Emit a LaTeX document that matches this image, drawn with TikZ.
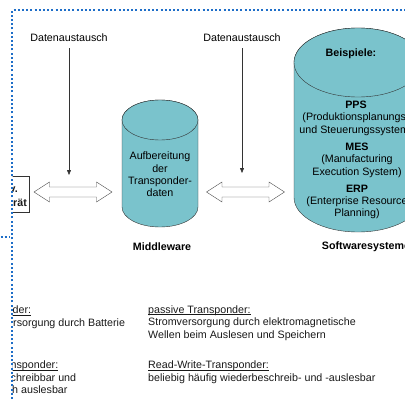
\documentclass[tikz,border=0pt]{standalone}
\usepackage{fontspec}
\setmainfont{Liberation Sans}
\usepackage{xcolor}
\usetikzlibrary{arrows.meta,positioning}

\definecolor{tealfill}{RGB}{122,195,204}
\definecolor{frameblue}{RGB}{30,110,200}
\newcommand{\figfont}{\fontsize{10.7}{12.4}\selectfont}
\newcommand{\ulin}[1]{$\underline{\smash{\hbox{#1}}}$}
% Zylinder: x-Mitte, oben, unten, x-Radius, y-Radius
\newcommand{\drum}[5]{%
  \filldraw[db] (#1-#4,#2+#5) -- (#1-#4,#3-#5)
    arc[start angle=180, end angle=360, x radius=#4pt, y radius=#5pt]
    -- (#1+#4,#2+#5)
    arc[start angle=0, end angle=180, x radius=#4pt, y radius=#5pt] -- cycle;
  \draw[db] (#1,#2+#5) ellipse[x radius=#4pt, y radius=#5pt];}
% Doppelpfeil: Name, x-Mitte, y-Mitte
\newcommand{\xchg}[3]{%
  \coordinate (#1) at (#2,#3);
  \draw[xchgstyle, shift={(#1)}] (-39,0) -- (-23.5,-10) -- (-23.5,-5) -- (23.5,-5)
    -- (23.5,-10) -- (39,0) -- (23.5,10) -- (23.5,5) -- (-23.5,5) -- (-23.5,10) -- cycle;}

\begin{document}
\begin{tikzpicture}[
    x=1pt, y=-1pt,
    font=\figfont,
    db/.style={draw=black!80, fill=tealfill, thin},
    xchgstyle/.style={draw=black!70, fill=white, thin, line join=miter},
    lbl/.style={align=center, inner sep=1pt},
    head/.style={font=\figfont\bfseries, align=center, inner sep=1pt},
    note/.style={align=left, inner sep=0pt, text=black!90},
    flow/.style={-{Triangle[length=5pt,width=4pt]}, draw=black!80, thin},
    frame/.style={draw=frameblue, line width=2pt, dash pattern=on 2pt off 2.2pt},
]
\useasboundingbox (0,0) rectangle (405,399);

% Datenbanken
\drum{160}{100}{227}{38}{20}
\drum{358}{28}{232}{64}{34.5}

\node[lbl] (mw) at (160,174.5) {Aufbereitung\\der\\Transponder-\\daten};
\node[head] (mwlabel) at (162,247) {Middleware};
\node[head] (swlabel) at (366,247) {Softwaresysteme};

% Inhalt Softwaresysteme
\node[head] (bsp) at (351,54) {Beispiele:};
\node[lbl] (pps) at (356,118) {\textbf{PPS}\\(Produktionsplanungs-\\und Steuerungssystem)};
\node[lbl] (mes) at (357,160) {\textbf{MES}\\(Manufacturing\\Execution System)};
\node[lbl] (erp) at (357,202) {\textbf{ERP}\\(Enterprise Resource\\Planning)};

% Austauschpfeile
\xchg{x1}{73}{192}
\xchg{x2}{245.5}{192}

\node[lbl] (dt1) at (69,38) {Datenaustausch};
\node[lbl] (dt2) at (242,38) {Datenaustausch};
\draw[flow, shorten <=5pt, shorten >=17pt] (dt1.south) -- (dt1 |- x1);
\draw[flow, shorten <=5pt, shorten >=19pt] (dt2.south) -- (dt2 |- x2);

% abgeschnittener linker Teil
\begin{scope}
  \clip (12.5,0) rectangle (405,399);
  \node[draw=black!80, thin, minimum width=41pt, minimum height=36pt, anchor=north east] (reader) at (29,176) {};
  \node[note, font=\figfont\bfseries, anchor=west] (rdtxt) at (9.5,197) {v.\\[2pt]\hspace*{3.5pt}rät};
  \node[note, anchor=base west] (lt1) at (13,326) {\hspace*{-6.5pt}\ulin{nder:}\\rsorgung durch Batterie};
  \node[note, anchor=base west] (lt2) at (10.5,393.5) {\ulin{nsponder:}\\chreibbar und\\\hspace*{1.5pt}h auslesbar};
\end{scope}

% Transpondertypen
\node[note, anchor=base west] (rt1) at (148,338)
    {\ulin{passive Transponder:}\\Stromversorgung durch elektromagnetische\\Wellen beim Auslesen und Speichern};
\node[note, anchor=base west] (rt2) at (148,381)
    {\ulin{Read-Write-Transponder:}\\beliebig häufig wiederbeschreib- und -auslesbar};

% Rahmen
\draw[frame] (12,399) -- (12,10) -- (405,10);
\draw[frame] (0.5,237) -- (9,237);
\end{tikzpicture}
\end{document}
